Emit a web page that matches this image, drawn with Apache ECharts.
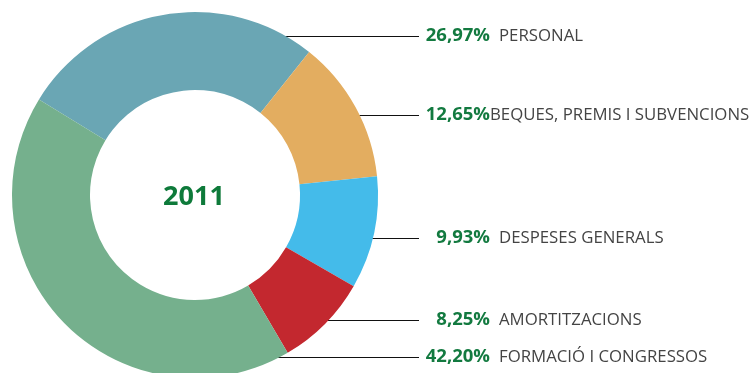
<!DOCTYPE html>
<html>
<head>
<meta charset="utf-8">
<script src="https://cdn.jsdelivr.net/npm/echarts@6/dist/echarts.min.js"></script>
<style>
  html, body { margin: 0; padding: 0; background: #fff; }
  #chart { width: 752px; height: 373px; }
</style>
</head>
<body>
<div id="chart"></div>
<script>
// Budget distribution for 2011, listed clockwise from the top
const categories = ['PERSONAL', 'BEQUES, PREMIS I SUBVENCIONS', 'DESPESES GENERALS', 'AMORTITZACIONS', 'FORMACIÓ I CONGRESSOS'];
const shares = [26.97, 12.65, 9.93, 8.25, 42.20];
const yearLabel = '2011';

const colors = ['#6aa6b4', '#e3ad60', '#44bbea', '#c3282f', '#75b08d'];

// Ring geometry and label placement
const CX = 195, CY = 195, R_IN = 105, R_OUT = 183;
const labelRows = [36, 115, 238, 320, 357];
const lineEndX = 417, pctRight = 490;
const tightGap = [false, true, false, false, false];
const PCT_FONT = 'bold 18.5px "Open Sans"';

const fmt = v => v.toFixed(2).replace('.', ',') + '%';

// measure the percentage text so the figures line up on their right edge
const measureCtx = document.createElement('canvas').getContext('2d');
measureCtx.font = PCT_FONT;
const pctWidth = i => measureCtx.measureText(fmt(shares[i])).width;

const chart = echarts.init(document.getElementById('chart'), null, { renderer: 'canvas' });

chart.setOption({
  animation: false,
  textStyle: { fontFamily: 'Open Sans' },
  graphic: [{
    type: 'text',
    x: CX - 1, y: CY + 2,
    style: {
      text: yearLabel, align: 'center', verticalAlign: 'middle',
      fill: '#0e7a3a', font: 'bold 27px "Open Sans"'
    }
  }],
  series: [{
    type: 'pie',
    center: [CX, CY],
    radius: [R_IN, R_OUT],
    startAngle: 148.5,
    clockwise: true,
    avoidLabelOverlap: false,
    silent: true,
    itemStyle: { borderWidth: 0 },
    data: categories.map((name, i) => ({
      name, value: shares[i], itemStyle: { color: colors[i] }
    })),
    label: {
      show: true,
      position: 'outside',
      formatter: p => '{p|' + fmt(shares[p.dataIndex]) + '}' +
        (tightGap[p.dataIndex] ? '{nt|' : '{n|') + p.name + '}',
      rich: {
        p: { fontSize: 18.5, fontWeight: 'bold', color: '#137a40', fontFamily: 'Open Sans' },
        n: { fontSize: 16.8, color: '#444', padding: [0, 0, 0, 9], fontFamily: 'Open Sans' },
        nt: { fontSize: 16.8, color: '#444', fontFamily: 'Open Sans' }
      }
    },
    labelLine: {
      show: true,
      lineStyle: { color: '#111', width: 1 }
    },
    labelLayout: params => {
      const i = params.dataIndex;
      const y = labelRows[i];
      const ly = y + 0.5;
      const dy = y - CY;
      const edgeX = CX + Math.sqrt(R_OUT * R_OUT - dy * dy) - 3;
      return {
        x: pctRight - pctWidth(i), y, align: 'left', verticalAlign: 'middle',
        labelLinePoints: [[edgeX, ly], [edgeX + 1, ly], [lineEndX + 2, ly]]
      };
    }
  }]
});
</script>
</body>
</html>
